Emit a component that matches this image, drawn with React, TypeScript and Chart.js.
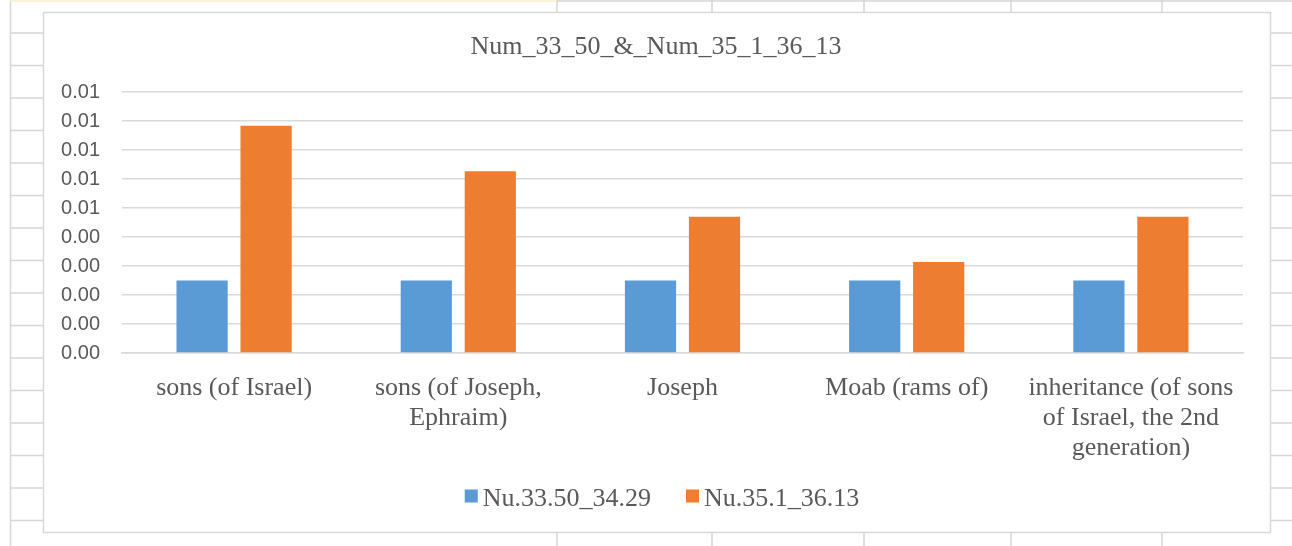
import React, { useEffect, useRef } from "react";
import { Chart, registerables } from "chart.js";

Chart.register(...registerables);

const chartTitle = "Num_33_50_&_Num_35_1_36_13";
const categories: string[][] = [
  ["sons (of Israel)"],
  ["sons (of Joseph,", "Ephraim)"],
  ["Joseph"],
  ["Moab (rams of)"],
  ["inheritance (of sons", "of Israel, the 2nd", "generation)"],
];
const seriesNames = ["Nu.33.50_34.29", "Nu.35.1_36.13"];
const seriesA = [0.0025, 0.0025, 0.0025, 0.0025, 0.0025];
const seriesB = [0.00784, 0.00627, 0.0047, 0.00314, 0.0047];
const yTickLabels = ["0.00", "0.00", "0.00", "0.00", "0.00", "0.01", "0.01", "0.01", "0.01", "0.01"];
const seriesColors = ["#5B9BD5", "#ED7D31"];

const TEXT = "#595959";
const SERIF = "'Liberation Serif', 'Times New Roman', serif";
const SANS = "'Liberation Sans', Arial, sans-serif";

const decor = {
  id: "decor",
  beforeDraw(chart: any) {
    const ctx = chart.ctx as CanvasRenderingContext2D;
    const W = chart.width;
    const H = chart.height;
    ctx.save();
    ctx.fillStyle = "#ffffff";
    ctx.fillRect(0, 0, W, H);
    const line = (x1: number, y1: number, x2: number, y2: number) => {
      ctx.beginPath();
      ctx.moveTo(x1, y1);
      ctx.lineTo(x2, y2);
      ctx.stroke();
    };
    ctx.strokeStyle = "#D6D6D6";
    ctx.lineWidth = 1.5;
    line(10.5, 0, 10.5, H);
    for (let y = 33; y < H; y += 32.5) {
      line(10, y, 43, y);
      line(1271, y, W, y);
    }
    for (const x of [557, 712, 864, 1011, 1162]) {
      line(x, 0, x, 12);
      line(x, 532, x, H);
    }
    line(557, 1, W, 1);
    ctx.strokeStyle = "#FCEFC8";
    line(10, 1, 557, 1);
    // chart box
    ctx.fillStyle = "#ffffff";
    ctx.fillRect(43, 12, 1227, 520);
    ctx.strokeStyle = "#D9D9D9";
    ctx.lineWidth = 1.5;
    ctx.strokeRect(43.5, 12.5, 1227, 520);
    ctx.restore();
  },
  afterDraw(chart: any) {
    const ctx = chart.ctx as CanvasRenderingContext2D;
    ctx.save();
    // title
    ctx.fillStyle = TEXT;
    ctx.font = `26px ${SERIF}`;
    ctx.textAlign = "center";
    ctx.textBaseline = "alphabetic";
    ctx.fillText(chartTitle, 656, 54);
    // legend
    ctx.font = `26px ${SERIF}`;
    ctx.textAlign = "left";
    const box = 13;
    const gap = 5;
    const spacing = 35;
    const items = chart.data.datasets.map((d: any) => ({
      label: d.label as string,
      color: d.backgroundColor as string,
      w: ctx.measureText(d.label).width,
    }));
    let total = 0;
    items.forEach((it: any, i: number) => {
      total += box + gap + it.w + (i > 0 ? spacing : 0);
    });
    let x = 662 - total / 2;
    items.forEach((it: any) => {
      ctx.fillStyle = it.color;
      ctx.fillRect(x, 489.5, box, box);
      ctx.fillStyle = TEXT;
      ctx.fillText(it.label, x + box + gap, 506);
      x += box + gap + it.w + spacing;
    });
    ctx.restore();
  },
};

export default function App() {
  const ref = useRef<HTMLCanvasElement | null>(null);
  useEffect(() => {
    if (!ref.current) return;
    const chart = new Chart(ref.current, {
      type: "bar",
      data: {
        labels: categories,
        datasets: [
          {
            label: seriesNames[0],
            data: seriesA,
            backgroundColor: seriesColors[0],
            barPercentage: 0.8,
            categoryPercentage: 0.571,
          },
          {
            label: seriesNames[1],
            data: seriesB,
            backgroundColor: seriesColors[1],
            barPercentage: 0.8,
            categoryPercentage: 0.571,
          },
        ],
      },
      options: {
        responsive: false,
        animation: false,
        devicePixelRatio: 1,
        layout: { padding: { left: 43, right: 49, top: 92, bottom: 73 } },
        plugins: {
          legend: { display: false },
          title: { display: false },
          tooltip: { enabled: false },
        },
        scales: {
          x: {
            grid: { display: false, drawTicks: false },
            border: { display: true, color: "#D9D9D9", width: 1.5 },
            ticks: {
              color: TEXT,
              font: { family: SERIF, size: 26, lineHeight: 1.15 },
              padding: 20,
              maxRotation: 0,
              minRotation: 0,
              autoSkip: false,
            },
            afterFit: (s: any) => {
              s.height = 120;
            },
          },
          y: {
            min: 0,
            max: 0.009,
            ticks: {
              stepSize: 0.001,
              color: TEXT,
              font: { family: SANS, size: 20 },
              padding: 22,
              callback: (_v: any, i: number) => yTickLabels[i],
            },
            grid: { color: "#D9D9D9", lineWidth: 1.5, drawTicks: false },
            border: { display: false },
            afterFit: (s: any) => {
              s.width = 79;
            },
          },
        },
      },
      plugins: [decor],
    });
    return () => chart.destroy();
  }, []);
  return (
    <div style={{ position: "fixed", left: 0, top: 0 }}>
      <canvas ref={ref} width={1292} height={546} style={{ display: "block" }} />
    </div>
  );
}
